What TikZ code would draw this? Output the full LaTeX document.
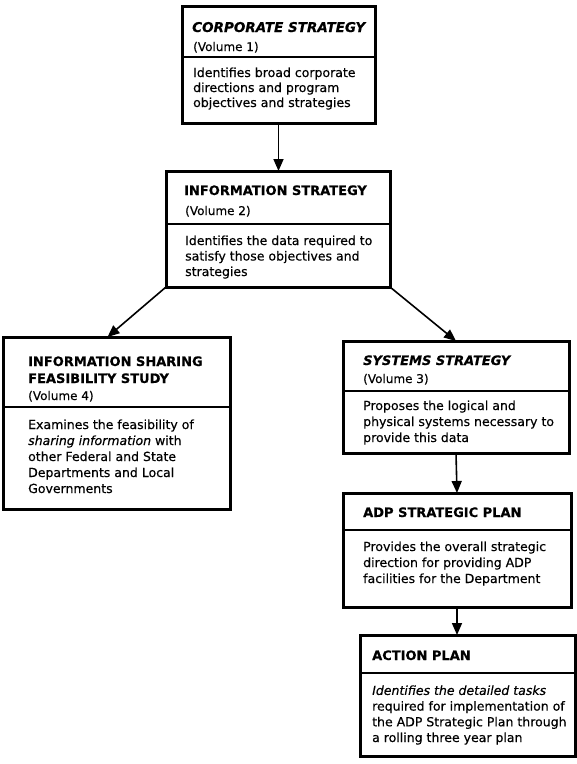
\documentclass[tikz,border=0pt]{standalone}
\usepackage{fontspec}
\setmainfont{DejaVu Sans}[FakeBold=0.4]
\usetikzlibrary{arrows.meta,calc}
\begin{document}
\begin{tikzpicture}[x=1pt,y=-1pt,
  box/.style={draw, line width=3pt, rectangle, inner sep=0pt, outer sep=0pt, anchor=north west},
  ttl/.style={anchor=base west, inner sep=0pt, align=left, font=\bfseries\fontsize{13}{17}\selectfont},
  vol/.style={anchor=base west, inner sep=0pt, font=\fontsize{12}{15}\selectfont},
  body/.style={anchor=base west, inner sep=0pt, align=left, font=\fontsize{12.5}{16}\selectfont},
  divline/.style={line width=1.8pt},
  arr/.style={line width=1.6pt, -{Triangle[length=12pt,width=10pt]}}]
\useasboundingbox (0,0) rectangle (577,764);

% boxes
\node[box, minimum width=193pt, minimum height=117pt] (b1) at (182,6) {};
\node[box, minimum width=224pt, minimum height=116pt] (b2) at (166,171) {};
\node[box, minimum width=227pt, minimum height=172pt] (b3) at (3,337) {};
\node[box, minimum width=226pt, minimum height=112pt] (b4) at (343,341) {};
\node[box, minimum width=228pt, minimum height=114pt] (b5) at (343,493) {};
\node[box, minimum width=215pt, minimum height=121pt] (b6) at (360,635) {};

% dividers
\coordinate (d1) at (0,57);
\coordinate (d2) at (0,224);
\coordinate (d3) at (0,407);
\coordinate (d4) at (0,391);
\coordinate (d5) at (0,530);
\coordinate (d6) at (0,673);
\draw[divline] (b1.west |- d1) -- (b1.east |- d1);
\draw[divline] (b2.west |- d2) -- (b2.east |- d2);
\draw[divline] (b3.west |- d3) -- (b3.east |- d3);
\draw[divline] (b4.west |- d4) -- (b4.east |- d4);
\draw[divline] (b5.west |- d5) -- (b5.east |- d5);
\draw[divline] (b6.west |- d6) -- (b6.east |- d6);

% box 1 (multi-line nodes are placed by the baseline of their last line)
\node[ttl, font=\bfseries\fontsize{13.5}{17}\selectfont] (t1) at (192,32) {\itshape CORPORATE STRATEGY};
\node[vol] (v1) at (193,51) {(Volume 1)};
\node[body, font=\fontsize{12.5}{15}\selectfont] (x1) at (193,107) {Identifies broad corporate\\directions and program\\objectives and strategies};

% box 2
\node[ttl] (t2) at (184,195) {INFORMATION STRATEGY};
\node[vol] (v2) at (185,215) {(Volume 2)};
\node[body, font=\fontsize{12.5}{15.5}\selectfont] (x2) at (185,276) {Identifies the data required to\\satisfy those objectives and\\strategies};

% box 3
\node[ttl] (t3) at (28,383) {INFORMATION SHARING\\FEASIBILITY STUDY};
\node[vol] (v3) at (28,400) {(Volume 4)};
\node[body] (x3) at (28,493) {Examines the feasibility of\\\textit{sharing information} with\\other Federal and State\\Departments and Local\\Governments};

% box 4
\node[ttl] (t4) at (363,365) {\itshape SYSTEMS STRATEGY};
\node[vol] (v4) at (363,383) {(Volume 3)};
\node[body] (x4) at (363,442) {Proposes the logical and\\physical systems necessary to\\provide this data};

% box 5
\node[ttl] (t5) at (363,517) {ADP STRATEGIC PLAN};
\node[body] (x5) at (363,583) {Provides the overall strategic\\direction for providing ADP\\facilities for the Department};

% box 6
\node[ttl] (t6) at (372,660) {ACTION PLAN};
\node[body, font=\fontsize{12.5}{15.7}\selectfont] (x6) at (372,742) {\textit{Identifies the detailed tasks}\\required for implementation of\\the ADP Strategic Plan through\\a rolling three year plan};

% connectors
\draw[arr] (b1.south) -- (b1.south |- b2.north);
\draw[arr] (b2.south west) -- ($(b3.north)+(-9,0)$);
\draw[arr] (b2.south east) -- (b4.north);
\draw[arr] (b4.south) -- (b5.north);
\draw[arr] (b5.south) -- (b5.south |- b6.north);
\end{tikzpicture}
\end{document}
